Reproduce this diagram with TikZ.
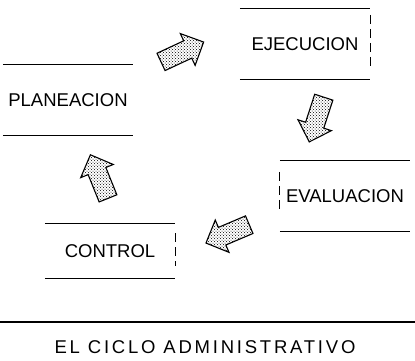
\documentclass[tikz,border=0pt]{standalone}
\usepackage{fontspec}
\setmainfont{Liberation Sans}
\usetikzlibrary{shapes.arrows,patterns}

\begin{document}
\begin{tikzpicture}[x=1pt,y=1pt,
  font=\fontsize{18.5}{21}\selectfont,
  etapa/.style={inner sep=0pt,minimum width=130pt},
  borde/.style={line width=1.2pt},
  lado/.style={line width=0.8pt,dash pattern=on 9pt off 5pt},
  flecha/.style={single arrow,draw,line width=1.1pt,pattern=crosshatch dots,
    inner sep=9pt,minimum height=47pt,single arrow head extend=8pt}]
  \useasboundingbox (0,0) rectangle (415,360);
  % etapas del ciclo
  \node[etapa,minimum height=71pt] (plan) at (68,260) {PLANEACION};
  \node[etapa,minimum height=70pt] (ejec) at (305,316) {EJECUCION};
  \node[etapa,minimum height=70pt] (eval) at (345,164) {EVALUACION};
  \node[etapa,minimum height=55pt] (ctrl) at (110,109) {CONTROL};
  \foreach \n in {plan,ejec,eval,ctrl}{
    \draw[borde] (\n.north west) -- (\n.north east);
    \draw[borde] (\n.south west) -- (\n.south east);
  }
  \draw[lado] ([yshift=-6pt]ejec.north east) -- ([yshift=11pt]ejec.south east);
  \draw[lado] ([yshift=-11pt]eval.north west) -- ([yshift=21pt]eval.south west);
  \draw[lado] ([yshift=-10pt]ctrl.north east) -- ([yshift=13pt]ctrl.south east);
  % flechas
  \node[flecha,rotate=25] (f1) at (178,306) {};
  \node[flecha,rotate=-108] (f2) at (318,245) {};
  \node[flecha,rotate=-157] (f3) at (232,128) {};
  \node[flecha,rotate=112] (f4) at (101,179) {};
  % pie
  \coordinate (rl) at (0,38);
  \coordinate (rr) at (415,38);
  \draw[borde] (rl) -- (rr);
  \node (titulo) at (205,13) {\addfontfeature{LetterSpace=15}EL CICLO ADMINISTRATIVO};
\end{tikzpicture}
\end{document}
